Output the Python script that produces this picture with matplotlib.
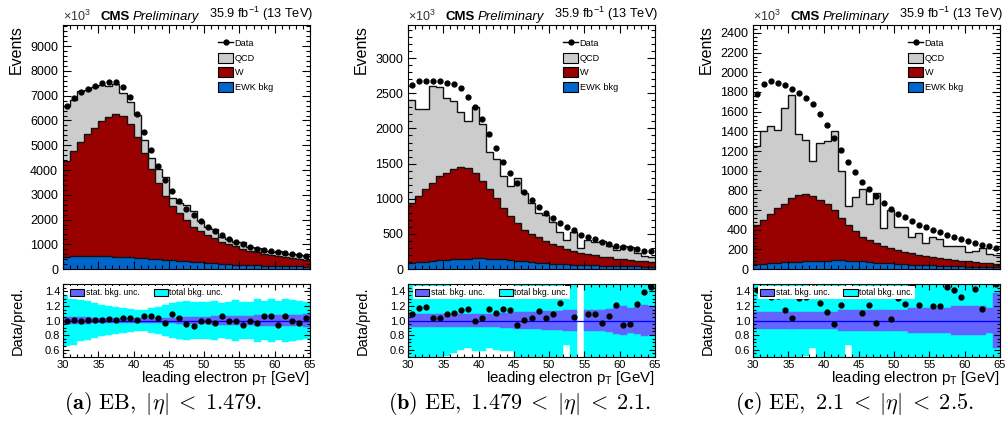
import numpy as np
import matplotlib
matplotlib.use('Agg')
import matplotlib.pyplot as plt
from matplotlib.ticker import MultipleLocator, AutoMinorLocator
from matplotlib.patches import Patch
from matplotlib.lines import Line2D

plt.rcParams['font.family'] = ['Liberation Sans', 'DejaVu Sans']
plt.rcParams['mathtext.fontset'] = 'custom'
plt.rcParams['mathtext.rm'] = 'Liberation Sans'
plt.rcParams['mathtext.it'] = 'Liberation Sans:italic'
plt.rcParams['mathtext.bf'] = 'Liberation Sans:bold'

edges = np.arange(30, 66, 1)
centers = edges[:-1] + 0.5
nan = np.nan

# (a) EB, events in units of 10^3
data_a = [6570, 6890, 7150, 7280, 7400, 7500, 7560, 7540, 7340, 6930, 6280, 5540, 4800, 4160, 3590,
          3140, 2750, 2440, 2190, 1940, 1720, 1540, 1380, 1230, 1110, 1010, 900, 830, 780, 740,
          680, 640, 600, 560, 540]
qcd_a = [2210, 2050, 2060, 1760, 1640, 1470, 1270, 1215, 955, 860, 880, 560, 440, 580, 750,
         320, 420, 590, 635, 420, 340, 350, 180, 220, 200, 245, 150, 185, 115, 120,
         185, 100, 140, 157, 145]
w_a = [3890, 4240, 4600, 4910, 5180, 5460, 5630, 5750, 5680, 5400, 4890, 4240, 3650, 3070, 2580,
       2210, 1920, 1670, 1430, 1270, 1130, 1020, 900, 810, 730, 660, 590, 530, 480, 450,
       415, 380, 345, 310, 275]
ewk_a = [470, 530, 545, 540, 530, 520, 510, 500, 490, 470, 450, 430, 410, 390, 370,
         350, 330, 310, 290, 270, 250, 230, 215, 200, 185, 170, 160, 150, 140, 130,
         125, 120, 115, 110, 105]
stat_a = [0.05, 0.045, 0.045, 0.045, 0.04, 0.04, 0.04, 0.04, 0.04, 0.04, 0.035, 0.035, 0.035, 0.035, 0.04,
          0.04, 0.045, 0.045, 0.05, 0.05, 0.05, 0.055, 0.055, 0.06, 0.06, 0.065, 0.065, 0.07, 0.07, 0.075,
          0.075, 0.08, 0.08, 0.08, 0.085]
tot_a = [0.35, 0.33, 0.285, 0.265, 0.24, 0.21, 0.20, 0.18, 0.165, 0.155, 0.15, 0.15, 0.17, 0.19, 0.21,
         0.235, 0.25, 0.27, 0.26, 0.25, 0.26, 0.27, 0.24, 0.26, 0.28, 0.26, 0.25, 0.29, 0.27, 0.30,
         0.27, 0.29, 0.28, 0.27, 0.26]

# (b) EE, 1.479 < |eta| < 2.1
data_b = [2620, 2670, 2680, 2680, 2670, 2650, 2630, 2570, 2450, 2310, 2130, 1920, 1720, 1520, 1360,
          1220, 1090, 976, 890, 805, 725, 660, 600, 550, 485, 455, 423, 390, 357, 335,
          315, 295, 280, 260, 252]
qcd_b = [1460, 1240, 1130, 1380, 1270, 1060, 970, 785, 670, 950, 815, 520, 550, 450, 435,
         650, 520, 440, 340, 375, 315, 210, 120, 265, 65, 203, 190, 222, 169, 127,
         192, 180, 110, 76, 73]
w_b = [855, 945, 1035, 1105, 1195, 1240, 1280, 1305, 1290, 1210, 1100, 990, 865, 730, 620,
       530, 450, 400, 360, 315, 275, 250, 225, 200, 175, 160, 145, 130, 120, 105,
       100, 90, 80, 75, 65]
ewk_b = [85, 95, 105, 115, 125, 132, 140, 146, 150, 152, 152, 150, 146, 140, 132,
         120, 110, 100, 92, 85, 78, 72, 67, 62, 58, 55, 52, 49, 46, 44,
         42, 40, 38, 36, 35]
stat_b = [0.09, 0.09, 0.09, 0.09, 0.09, 0.09, 0.09, 0.09, 0.09, 0.09, 0.09, 0.095, 0.095, 0.1, 0.1,
          0.11, 0.11, 0.12, 0.12, 0.13, 0.13, 0.13, 0.14, 0.14, nan, 0.15, 0.15, 0.14, 0.16, 0.18,
          0.2, 0.17, 0.19, 0.21, 0.2]
tot_b = [0.6, 0.6, 0.6, 0.6, 0.55, 0.48, 0.45, 0.40, 0.38, 0.42, 0.42, 0.38, 0.40, 0.42, 0.42,
         0.6, 0.6, 0.6, 0.6, 0.6, 0.6, 0.6, 0.33, 0.6, nan, 0.6, 0.6, 0.6, 0.6, 0.6,
         0.6, 0.6, 0.6, 0.6, 0.6]

# (c) EE, 2.1 < |eta| < 2.5
data_c = [1780, 1885, 1910, 1890, 1870, 1830, 1790, 1740, 1680, 1580, 1460, 1335, 1210, 1090, 990,
          890, 810, 740, 670, 610, 560, 525, 485, 450, 424, 397, 373, 350, 325, 305,
          285, 268, 250, 232, 210]
qcd_c = [800, 900, 890, 790, 975, 1050, 620, 555, 355, 575, 640, 805, 480, 190, 340,
         480, 365, 505, 180, 385, 235, 255, 170, 225, 135, 205, 200, 140, 138, 145,
         92, 115, 150, 92, 88]
w_c = [400, 445, 500, 555, 595, 648, 675, 682, 665, 622, 580, 512, 432, 364, 308,
       252, 228, 198, 178, 157, 141, 125, 114, 102, 95, 88, 76, 68, 62, 57,
       52, 48, 43, 37, 32]
ewk_c = [50, 55, 60, 65, 70, 72, 75, 78, 80, 83, 85, 88, 88, 86, 82,
         78, 72, 67, 62, 58, 54, 50, 46, 43, 40, 37, 34, 32, 30, 28,
         26, 24, 22, 21, 20]
stat_c = [0.12, 0.12, 0.12, 0.12, 0.12, 0.12, 0.12, 0.12, 0.12, 0.12, 0.12, 0.12, 0.14, 0.14, 0.14,
          0.14, 0.14, 0.14, 0.14, 0.14, 0.14, 0.14, 0.165, 0.165, 0.165, 0.165, 0.165, 0.165, 0.2, 0.2,
          0.2, 0.2, 0.2, 0.17, 0.37]
tot_c = [0.6, 0.6, 0.6, 0.6, 0.6, 0.6, 0.6, 0.48, 0.38, 0.6, 0.6, 0.6, 0.6, 0.33, 0.6,
         0.6, 0.6, 0.6, 0.6, 0.6, 0.6, 0.6, 0.6, 0.6, 0.6, 0.6, 0.6, 0.6, 0.6, 0.6,
         0.6, 0.6, 0.6, 0.6, 0.6]

c_qcd = '#cccccc'
c_w = '#990000'
c_ewk = '#0066cc'
c_stat = '#6464ff'
c_tot = '#00ffff'

fig = plt.figure(figsize=(10.08, 4.32), dpi=100)


def panel(left, data, qcd, w, ewk, stat, tot, ymax, major, caption, cap_x):
    data = np.array(data, float)
    ewk_top = np.array(ewk, float)
    w_top = ewk_top + np.array(w, float)
    total = w_top + np.array(qcd, float)

    ax = fig.add_axes([left, 0.377, 0.245, 0.565])
    ax.stairs(total, edges, fill=True, color=c_qcd)
    ax.stairs(w_top, edges, fill=True, color=c_w)
    ax.stairs(ewk_top, edges, fill=True, color=c_ewk)
    for top in (total, w_top, ewk_top):
        ax.stairs(top, edges, baseline=None, color='#111111', linewidth=1.0)
    ax.plot(centers, data, 'o', color='k', markersize=3.5, zorder=5)
    ax.set_xlim(30, 65)
    ax.set_ylim(0, ymax)
    ax.yaxis.set_major_locator(MultipleLocator(major))
    ax.yaxis.set_minor_locator(AutoMinorLocator(5))
    ax.xaxis.set_major_locator(MultipleLocator(5))
    ax.xaxis.set_minor_locator(MultipleLocator(1))
    ax.tick_params(which='both', direction='in', top=True, right=True, width=0.8)
    ax.tick_params(which='major', length=6, labelsize=9)
    ax.tick_params(which='minor', length=3)
    ax.tick_params(axis='x', labelbottom=False)
    ax.set_ylabel('Events', loc='top', fontsize=11.5)
    ax.yaxis.set_label_coords(-0.16, 1.0)
    ax.text(0.0, 1.004, '×10$^{3}$', transform=ax.transAxes, fontsize=9,
            ha='left', va='bottom', color='#333333')
    ax.text(0.15, 1.01, 'CMS', transform=ax.transAxes, fontsize=9.5, weight='bold',
            ha='left', va='bottom')
    ax.text(0.283, 1.01, 'Preliminary', transform=ax.transAxes, fontsize=9.5, style='italic',
            ha='left', va='bottom')
    ax.text(1.012, 1.01, '35.9 fb$^{-1}$ (13 TeV)', transform=ax.transAxes, fontsize=9.2,
            ha='right', va='bottom')
    handles = [Line2D([], [], color='k', marker='o', markersize=3.5, linewidth=1),
               Patch(facecolor=c_qcd, edgecolor='k', linewidth=0.8),
               Patch(facecolor=c_w, edgecolor='k', linewidth=0.8),
               Patch(facecolor=c_ewk, edgecolor='k', linewidth=0.8)]
    ax.legend(handles, ['Data', 'QCD', 'W', 'EWK bkg'], loc='upper left',
              bbox_to_anchor=(0.61, 0.965), frameon=False, fontsize=6.6, borderpad=0,
              handlelength=1.64, handleheight=1.31, labelspacing=0.49, handletextpad=0.15)

    rx = fig.add_axes([left, 0.1736, 0.245, 0.169])
    stat = np.array(stat, float)
    tot = np.array(tot, float)
    rx.bar(centers, 2 * tot, bottom=1 - tot, width=1.0, color=c_tot, edgecolor=c_tot, linewidth=0.3)
    rx.bar(centers, 2 * stat, bottom=1 - stat, width=1.0, color=c_stat, edgecolor=c_stat, linewidth=0.3)
    rx.axhline(1.0, color='#0000ff', linewidth=0.9)
    rx.plot(centers, data / total, 'o', color='k', markersize=3.5, zorder=5)
    rx.set_xlim(30, 65)
    rx.set_ylim(0.5, 1.5)
    rx.yaxis.set_major_locator(MultipleLocator(0.2))
    rx.yaxis.set_minor_locator(MultipleLocator(0.05))
    rx.xaxis.set_major_locator(MultipleLocator(5))
    rx.xaxis.set_minor_locator(MultipleLocator(1))
    rx.tick_params(which='both', direction='in', top=True, right=True, width=0.8)
    rx.tick_params(which='major', length=4, labelsize=8, pad=2)
    rx.tick_params(which='minor', length=2)
    rx.set_ylabel('Data/pred.', fontsize=10.5)
    rx.yaxis.set_label_coords(-0.154, 0.5)
    rx.set_xlabel('leading electron p$_\\mathrm{T}$ [GeV]', loc='right', fontsize=10.8)
    rx.xaxis.set_label_coords(1.0, -0.17)
    lh = [Patch(facecolor=c_stat, edgecolor='k', linewidth=0.8),
          Patch(facecolor=c_tot, edgecolor='k', linewidth=0.8)]
    leg = rx.legend(lh, ['stat. bkg. unc.', 'total bkg. unc.'], ncol=2, loc='upper left',
                    bbox_to_anchor=(0.02, 0.97), fontsize=6.2, frameon=True, fancybox=False,
                    framealpha=1, facecolor='white', edgecolor='none', borderpad=0.25,
                    handlelength=1.63, handleheight=0.9, handletextpad=0.2, columnspacing=1.6,
                    borderaxespad=0)
    leg.set_zorder(10)

    fig.text(cap_x, 0.065, caption, ha='center', va='center', fontsize=16, math_fontfamily='cm')


panel(0.0625, data_a, qcd_a, w_a, ewk_a, stat_a, tot_a, 9850, 1000,
      r'$\mathbf{(a)}\ \mathrm{EB},\ |\eta|\;<\;1.479.$', 0.162)
panel(0.4048, data_b, qcd_b, w_b, ewk_b, stat_b, tot_b, 3470, 500,
      r'$\mathbf{(b)}\ \mathrm{EE},\ 1.479\;<\;|\eta|\;<\;2.1.$', 0.516)
panel(0.747, data_c, qcd_c, w_c, ewk_c, stat_c, tot_c, 2480, 200,
      r'$\mathbf{(c)}\ \mathrm{EE},\ 2.1\;<\;|\eta|\;<\;2.5.$', 0.848)

fig.savefig('out.png', dpi=100)
